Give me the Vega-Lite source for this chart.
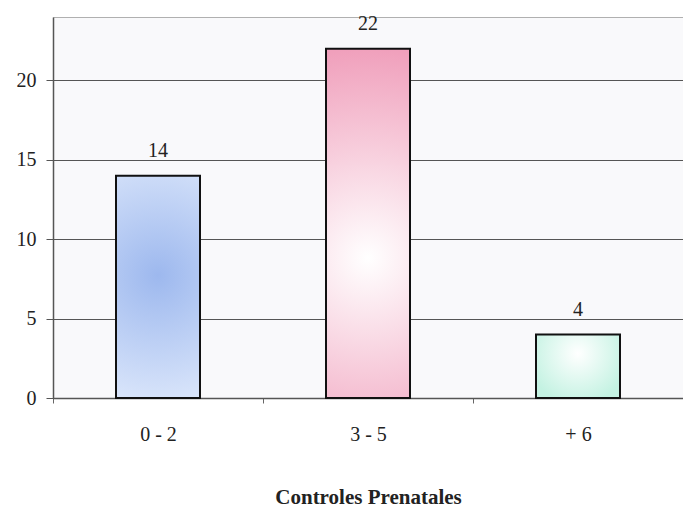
{
  "$schema": "https://vega.github.io/schema/vega-lite/v6.json",
  "autosize": {"type": "none"},
  "padding": {"left": 53, "top": 17, "right": 0, "bottom": 109},
  "width": 630,
  "height": 381,
  "background": "#ffffff",
  "config": {
    "view": {"fill": "#f9f9fb", "stroke": "#b0b0b0", "strokeWidth": 1},
    "font": "Liberation Serif"
  },
  "data": {
    "values": [
      {"controles": "0 - 2", "n": 14},
      {"controles": "3 - 5", "n": 22},
      {"controles": "+ 6", "n": 4}
    ]
  },
  "encoding": {
    "x": {
      "field": "controles", "type": "nominal", "sort": null,
      "scale": {"paddingInner": 0, "paddingOuter": 0},
      "axis": {
        "title": "Controles Prenatales", "titleFont": "Liberation Serif", "titleFontSize": 21,
        "titleFontWeight": "bold", "titleColor": "#222", "titlePadding": 42,
        "labelAngle": 0, "labelFont": "Liberation Serif", "labelFontSize": 20, "labelColor": "#222",
        "labelPadding": 21, "domainColor": "#555", "domainWidth": 1.5,
        "ticks": true, "tickBand": "extent", "tickColor": "#666", "tickSize": 5, "grid": false
      }
    },
    "y": {
      "field": "n", "type": "quantitative",
      "scale": {"domain": [0, 24], "nice": false},
      "axis": {
        "title": null, "values": [0, 5, 10, 15, 20],
        "labelFont": "Liberation Serif", "labelFontSize": 20, "labelColor": "#222",
        "labelPadding": 10, "tickSize": 7, "tickColor": "#555",
        "domainColor": "#555", "domainWidth": 1.5,
        "grid": true, "gridColor": "#555", "gridWidth": 1.2
      }
    }
  },
  "layer": [
    {
      "transform": [{"filter": "datum.controles === '0 - 2'"}],
      "mark": {
        "type": "bar", "stroke": "#111", "strokeWidth": 2, "width": {"band": 0.4},
        "fill": {"gradient": "radial", "x1": 0.5, "y1": 0.45, "r1": 0, "x2": 0.5, "y2": 0.45, "r2": 0.6,
          "stops": [{"offset": 0, "color": "#9db8ee"}, {"offset": 1, "color": "#dce7fb"}]}
      }
    },
    {
      "transform": [{"filter": "datum.controles === '3 - 5'"}],
      "mark": {
        "type": "bar", "stroke": "#111", "strokeWidth": 2, "width": {"band": 0.4},
        "fill": {"gradient": "radial", "x1": 0.5, "y1": 0.6, "r1": 0, "x2": 0.5, "y2": 0.6, "r2": 0.6,
          "stops": [{"offset": 0, "color": "#ffffff"}, {"offset": 1, "color": "#f0a0bc"}]}
      }
    },
    {
      "transform": [{"filter": "datum.controles === '+ 6'"}],
      "mark": {
        "type": "bar", "stroke": "#111", "strokeWidth": 2, "width": {"band": 0.4},
        "fill": {"gradient": "radial", "x1": 0.5, "y1": 0.35, "r1": 0, "x2": 0.5, "y2": 0.35, "r2": 0.6,
          "stops": [{"offset": 0, "color": "#ffffff"}, {"offset": 1, "color": "#c4f2e2"}]}
      }
    },
    {
      "mark": {"type": "text", "dy": -25, "font": "Liberation Serif", "fontSize": 20, "color": "#222"},
      "encoding": {"text": {"field": "n", "type": "quantitative"}}
    }
  ]
}
